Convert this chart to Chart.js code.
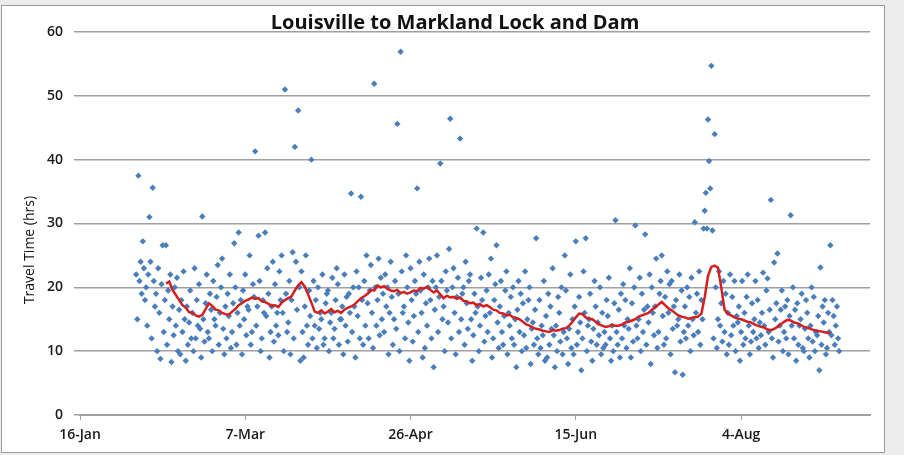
<!DOCTYPE html>
<html>
<head>
<meta charset="utf-8">
<script src="https://cdn.jsdelivr.net/npm/chart.js@4"></script>
<style>
  html, body { margin: 0; padding: 0; background: #ececec; }
  #wrap { position: relative; width: 904px; height: 455px; }
  #box { position: absolute; left: 1px; top: 5px; width: 882px; height: 446px; background: #ffffff; border: 1px solid #9c9c9c; }
  canvas { position: absolute; left: 0; top: 0; display: block; }
</style>
</head>
<body>
<div id="wrap">
<div id="box"></div>
<canvas id="travelChart" width="904" height="455"></canvas>
</div>
<script>
// x axis is in days after 16-Jan
const tickDays = [0, 50, 100, 150, 200];
const tickLabels = ['16-Jan', '7-Mar', '26-Apr', '15-Jun', '4-Aug'];

// observed travel times, one row per day starting at obsStartDay
const obsStartDay = 17;
const hoursByDay = [
  [22, 15, 37.5], [21, 24, 19], [27.2, 23, 18], [20, 14, 22], [31, 24, 12],
  [35.6, 21, 17], [19, 10, 23], [16, 8.8, 20.5], [26.6, 13, 18], [26.6, 11, 19.5],
  [15, 22, 8.3], [17, 12.5, 20], [14, 21.5, 10], [16.5, 9.5, 18], [13, 22.5, 15],
  [8.5, 17, 11], [14.5, 19.5, 12], [16, 10, 23], [12, 18, 14], [20.5, 13.5, 9],
  [31.1, 15, 11.5], [17.5, 22, 13], [12, 19, 16.5], [10, 21, 15], [14, 18.5, 23.5],
  [11, 16, 20], [24.5, 13.5, 9.5], [17, 12, 19], [15.5, 22, 10.5], [13, 17.5, 26.9],
  [20, 11, 16], [28.6, 14, 18], [9.5, 19.5, 15], [22, 12.5, 17], [16.5, 25, 11],
  [13, 20.5, 18.5], [41.3, 14, 17], [28.1, 21, 10], [12, 18, 16], [28.6, 15.5, 23],
  [19, 9, 13], [17, 24, 11.5], [20.5, 14, 16], [12.5, 22.5, 18], [25, 16, 10],
  [51, 19, 13], [14.5, 21, 9.5], [18, 25.5, 12], [42, 24, 16.5], [47.7, 20, 8.5],
  [22.5, 13, 9], [17, 25, 14], [11, 19.5, 15.5], [40, 12, 21], [14, 18, 10.5],
  [20, 13.5, 16], [15, 22, 11], [12, 17.5, 19], [19.5, 10, 14.5], [16, 21.5, 12],
  [13.5, 18, 23], [20.5, 11, 15], [15, 17, 9.5], [22, 14, 18.5], [11.5, 19, 16],
  [34.7, 13, 20], [17, 9, 22.5], [15.5, 20, 12], [34.2, 18, 11], [21, 14, 25],
  [17.5, 12, 19.5], [23.5, 16, 10.5], [51.9, 20, 14], [18, 24.5, 12.5], [21.5, 15, 19],
  [13, 22, 17], [20, 9.5, 16], [24, 18.5, 11], [15, 21, 13.5], [45.6, 19, 10],
  [56.9, 22.5, 16], [17, 12, 25], [20, 14.5, 8.5], [23, 18, 11.5], [15.5, 21, 19],
  [35.5, 13, 24], [19.5, 16, 9], [22, 10.5, 17.5], [14, 20, 24.5], [18, 12, 21],
  [7.5, 16.5, 20], [25, 13, 18.5], [39.4, 21, 15], [17, 10, 22.5], [19.5, 14.5, 26],
  [46.4, 12, 20], [23, 16, 9.5], [18.5, 21.5, 13], [43.3, 15, 19], [20, 11, 24],
  [17.5, 13.5, 21], [22, 15, 8.5], [12.5, 19, 16], [29.2, 17, 10], [14, 21.5, 18],
  [28.6, 11.5, 15.5], [19.5, 13, 22], [16, 24.5, 9], [12, 18, 20.5], [26.6, 14.5, 10.5],
  [17, 21, 13], [11, 15.5, 19.5], [22.5, 9.5, 16], [14, 18.5, 12], [20, 11, 15],
  [7.5, 16.5, 21], [13, 19, 10], [17.5, 12.5, 22.5], [10.5, 15, 18], [20, 8, 13.5],
  [14.5, 11, 16.5], [27.7, 12, 9.5], [18, 10.5, 14], [12.5, 21, 8.5], [15.5, 9, 19],
  [11, 17, 13.5], [23, 12.5, 7.5], [14, 10, 18.5], [16, 11.5, 20], [9.5, 13, 25],
  [19.5, 12, 8], [13.5, 22, 10.5], [15, 9.5, 17], [27.2, 11, 13], [18.5, 14.5, 7],
  [12, 22.5, 16], [27.7, 10, 14], [15, 19, 11.5], [8.5, 13.5, 21], [17, 11, 14.5],
  [12.5, 20, 9.5], [16, 10.5, 13], [11, 18, 15.5], [21.5, 12, 8.5], [14, 10, 17.5],
  [30.5, 13, 11], [16.5, 9, 19], [12, 20.5, 14], [18, 10.5, 15], [13.5, 23, 9],
  [17.5, 11.5, 20], [29.7, 14, 12], [15, 21.5, 10], [19, 13, 16.5], [28.3, 11, 17],
  [14.5, 22, 8], [20, 16, 12.5], [17, 24.5, 10.5], [13, 19, 21], [25, 15.5, 11],
  [18.5, 12, 22.5], [16, 20.5, 9.5], [21, 13.5, 17], [6.7, 18, 14], [15, 22, 11.5],
  [19.5, 6.3, 13], [17, 12, 20], [14, 18.5, 10], [21.5, 15, 12.5], [30.2, 16, 19],
  [13, 22.5, 11], [18, 15, 29.2], [32, 34.8, 29.2], [46.3, 39.8, 35.5], [54.7, 28.9, 12],
  [44, 20, 10.5], [15, 22.5, 14], [17.5, 11.5, 21], [13, 19, 9.5], [16, 11, 22],
  [12.5, 18.5, 14], [21, 10, 15.5], [14.5, 17, 8.5], [13, 21, 11], [16, 12, 18.5],
  [22, 14, 9.5], [11.5, 17.5, 13], [15, 21, 12], [18, 10.5, 14.5], [12.5, 16, 22.3],
  [14, 11, 19.5], [21.4, 13, 16.5], [33.7, 12, 9], [23.9, 15, 17.5], [25.3, 11.5, 14],
  [16.5, 19.5, 10], [13, 17, 12], [18, 9.5, 15.5], [31.3, 14, 20], [12, 16.5, 8.5],
  [17.5, 11, 14], [15, 19, 10.5], [10, 13.5, 18], [16, 12, 9], [14, 20, 11.5],
  [18.5, 10, 13], [12.5, 15.5, 7], [23.1, 11, 17], [14.5, 18, 9.5], [10.5, 16, 13],
  [26.6, 12.5, 18], [15.5, 11, 14], [17, 12, 10]
];

// moving average, one value per day starting at maStartDay
const maStartDay = 26;
const maHours = [
  20.6, 20.9, 19.6, 18.8, 18.0, 17.2, 16.8, 16.1, 16.0, 15.6,
  15.4, 15.7, 16.6, 17.5, 17.1, 16.5, 16.4, 16.0, 15.8, 15.7,
  16.2, 16.6, 17.2, 17.5, 17.9, 18.1, 18.4, 18.2, 18.3, 17.8,
  17.7, 17.4, 17.1, 17.2, 16.9, 17.6, 18.0, 18.3, 18.6, 19.5,
  20.3, 20.8, 20.1, 18.9, 17.6, 16.2, 16.0, 16.4, 15.9, 16.2,
  16.6, 16.1, 16.3, 16.0, 16.5, 16.8, 17.0, 17.3, 17.8, 18.3,
  18.6, 19.0, 19.6, 19.5, 20.3, 20.0, 20.2, 19.8, 19.5, 19.4,
  19.6, 19.1, 19.3, 19.0, 19.2, 19.5, 19.4, 19.9, 19.8, 20.1,
  19.6, 19.2, 19.5, 18.9, 18.3, 18.7, 18.4, 18.5, 18.2, 18.4,
  17.9, 17.8, 17.5, 17.6, 17.2, 17.4, 17.0, 17.2, 16.9, 16.5,
  16.4, 16.0, 15.9, 15.6, 15.7, 15.3, 15.2, 15.0, 14.6, 14.2,
  14.0, 13.7, 13.5, 13.4, 13.2, 13.1, 13.0, 13.3, 13.2, 13.3,
  13.5, 13.6, 14.0, 14.6, 15.3, 15.9, 15.8, 15.3, 15.1, 15.0,
  14.6, 14.2, 14.0, 13.8, 13.9, 14.1, 14.0, 14.0, 14.2, 14.5,
  14.6, 14.8, 15.0, 15.4, 15.6, 15.8, 16.0, 16.5, 16.9, 17.3,
  17.7, 17.2, 16.7, 16.4, 16.0, 15.6, 15.4, 15.3, 15.1, 15.2,
  15.3, 15.4, 15.9, 18.5, 21.8, 23.2, 23.4, 23.1, 20.0, 16.5,
  15.9, 15.6, 15.3, 15.1, 15.0, 14.8, 14.6, 14.5, 14.2, 14.0,
  13.8, 13.7, 13.4, 13.3, 13.5, 13.8, 14.2, 14.6, 14.9, 14.8,
  14.5, 14.4, 14.1, 13.8, 13.7, 13.5, 13.3, 13.2, 13.1, 13.0,
  12.9, 12.8
];

const obsPoints = [];
hoursByDay.forEach((row, i) => {
  row.forEach((h, j) => {
    obsPoints.push({ x: obsStartDay + i + j * 0.33, y: h });
  });
});
const maPoints = maHours.map((h, i) => ({ x: maStartDay + i, y: h }));

// chart title sits over the top of the plot, and the y title sits a bit low, as in the original
const textOverlay = {
  id: 'textOverlay',
  afterDraw(chart) {
    const ctx = chart.ctx;
    ctx.save();
    ctx.fillStyle = '#111111';
    ctx.textAlign = 'center';
    ctx.textBaseline = 'alphabetic';
    ctx.font = 'bold 20px "Open Sans"';
    ctx.fillText('Louisville to Markland Lock and Dam', 455, 29);
    ctx.translate(30, 250);
    ctx.rotate(-Math.PI / 2);
    ctx.textBaseline = 'middle';
    ctx.font = '14px "Open Sans"';
    ctx.fillText('Travel Time (hrs)', 0, 0);
    ctx.restore();
  }
};

Chart.defaults.font.family = '"Open Sans"';

new Chart(document.getElementById('travelChart'), {
  type: 'scatter',
  data: {
    datasets: [{
      label: 'Moving average',
      data: maPoints,
      showLine: true,
      borderColor: '#d21f1f',
      borderWidth: 2.5,
      pointRadius: 0,
      order: 0
    }, {
      label: 'Travel time',
      data: obsPoints,
      pointStyle: 'rectRot',
      pointRadius: 3.2,
      backgroundColor: '#4a7ebb',
      borderWidth: 0,
      order: 1
    }]
  },
  plugins: [textOverlay],
  options: {
    responsive: false,
    animation: false,
    layout: { padding: { top: 32, right: 34, bottom: 0, left: 20 } },
    plugins: {
      legend: { display: false },
      tooltip: { enabled: false },
      title: { display: false }
    },
    scales: {
      x: {
        type: 'linear',
        min: 0,
        max: 239,
        afterBuildTicks: (scale) => { scale.ticks = tickDays.map(v => ({ value: v })); },
        afterFit: (scale) => { scale.height = 40; },
        ticks: {
          autoSkip: false,
          maxRotation: 0,
          padding: 7,
          color: '#1a1a1a',
          font: { size: 14, weight: '600' },
          callback: (v) => tickLabels[tickDays.indexOf(v)]
        },
        grid: { drawOnChartArea: false, drawTicks: true, tickLength: 5, color: '#a0a0a0' },
        border: { color: '#a0a0a0', width: 2 }
      },
      y: {
        min: 0,
        max: 60,
        afterFit: (scale) => { scale.width = 60; },
        ticks: {
          stepSize: 10,
          padding: 11,
          color: '#1a1a1a',
          font: { size: 14, weight: '600' }
        },
        grid: { color: '#a0a0a0', lineWidth: 1.5, tickLength: 6 },
        border: { display: false }
      }
    }
  }
});
</script>
</body>
</html>
